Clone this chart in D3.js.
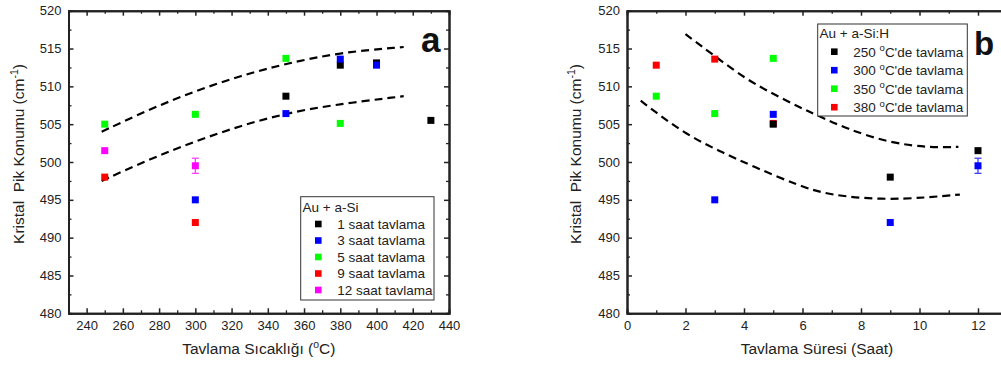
<!DOCTYPE html>
<html>
<head>
<meta charset="utf-8">
<script src="https://cdn.jsdelivr.net/npm/d3@7"></script>
<style>
  html, body { margin: 0; padding: 0; background: #fff; }
  svg { display: block; font-family: "Liberation Sans", Arial, sans-serif; }
</style>
</head>
<body>
<svg id="chart" width="1001" height="365"></svg>
<script>
// Panel a: peak position vs annealing temperature, one series per annealing time
const seriesA = [
  { name: "1 saat tavlama",  color: "#000000", x: [350, 380, 400, 430], y: [508.7, 512.8, 513.1, 505.5], err: [0, 0, 0, 0] },
  { name: "3 saat tavlama",  color: "#0000ff", x: [300, 350, 380, 400], y: [495.0, 506.4, 513.6, 512.8], err: [0.15, 0, 0, 0] },
  { name: "5 saat tavlama",  color: "#00ff00", x: [250, 300, 350, 380], y: [505.0, 506.3, 513.7, 505.1], err: [0, 0, 0, 0] },
  { name: "9 saat tavlama",  color: "#ff0000", x: [250, 300], y: [498.0, 492.0], err: [0, 0] },
  { name: "12 saat tavlama", color: "#ff00ff", x: [250, 300], y: [501.5, 499.5], err: [0, 1.0] }
];
// Dashed guide curves of panel a
const curveA1x = [248.3, 275, 300, 325, 350, 380, 415];
const curveA1y = [504.0, 507.0, 509.4, 511.4, 513.0, 514.5, 515.2];
const curveA2x = [248.3, 275, 300.7, 325, 349.4, 374.3, 415];
const curveA2y = [497.5, 500.4, 502.8, 504.8, 506.4, 507.5, 508.7];

// Panel b: peak position vs annealing time, one series per annealing temperature
const seriesB = [
  { name: "380", color: "#ff0000", x: [1, 3, 5], y: [512.8, 513.6, 505.1], err: [0, 0, 0] },
  { name: "350", color: "#00ff00", x: [1, 3, 5], y: [508.7, 506.4, 513.7], err: [0, 0, 0] },
  { name: "300", color: "#0000ff", x: [3, 5, 9, 12], y: [495.0, 506.3, 492.0, 499.5], err: [0.15, 0, 0, 1.0] },
  { name: "250", color: "#000000", x: [5, 9, 12], y: [505.0, 498.0, 501.5], err: [0, 0, 0] }
];
const legendB = [
  { temp: "250", color: "#000000" },
  { temp: "300", color: "#0000ff" },
  { temp: "350", color: "#00ff00" },
  { temp: "380", color: "#ff0000" }
];
const curveB1x = [2.0, 3.0, 4.09, 5.0, 5.91, 6.49, 7.5, 9.0, 10.36, 11.33];
const curveB1y = [516.9, 514.0, 510.9, 509.0, 507.2, 506.2, 504.4, 502.5, 501.9, 502.0];
const curveB2x = [0.47, 0.90, 2.04, 3.18, 4.32, 5.91, 6.94, 8.75, 10.25, 11.38];
const curveB2y = [508.1, 506.8, 503.6, 501.4, 499.4, 496.8, 495.6, 495.0, 495.3, 495.7];

// Shared tick values
const yMajor = [480, 485, 490, 495, 500, 505, 510, 515, 520];
const yMinor = [482.5, 487.5, 492.5, 497.5, 502.5, 507.5, 512.5, 517.5];
const xMajorA = [240, 260, 280, 300, 320, 340, 360, 380, 400, 420, 440];
const xMinorA = [230, 250, 270, 290, 310, 330, 350, 370, 390, 410, 430];
const xMajorB = [0, 2, 4, 6, 8, 10, 12];
const xMinorB = [1, 3, 5, 7, 9, 11, 13];

const svg = d3.select("#chart");
const INK = "#222";

function drawPanel(p) {
  const x = d3.scaleLinear().domain(p.xDomain).range(p.xRange);
  const y = d3.scaleLinear().domain([480, 520]).range([313.3, 10.7]);
  const g = svg.append("g");
  const [x0, x1] = p.xRange;

  const styleAxis = (sel, lw) => {
    sel.select(".domain").attr("stroke", INK).attr("stroke-width", 2);
    sel.selectAll(".tick line").attr("stroke", INK).attr("stroke-width", lw);
    sel.selectAll(".tick text").attr("fill", INK).attr("font-size", 13)
      .attr("font-family", "Liberation Sans, Arial, sans-serif");
  };

  // bottom
  g.append("g").attr("transform", `translate(0,${y(480)})`)
    .call(d3.axisBottom(x).tickValues(p.xMinor).tickSize(-3).tickFormat(""))
    .call(s => styleAxis(s, 1.3));
  g.append("g").attr("transform", `translate(0,${y(480)})`)
    .call(d3.axisBottom(x).tickValues(p.xMajor).tickSize(-5).tickSizeOuter(0).tickPadding(7).tickFormat(d3.format("d")))
    .call(s => styleAxis(s, 1.5));
  // top
  g.append("g").attr("transform", `translate(0,${y(520)})`)
    .call(d3.axisTop(x).tickValues(p.xMinor).tickSize(-3).tickFormat(""))
    .call(s => styleAxis(s, 1.3));
  g.append("g").attr("transform", `translate(0,${y(520)})`)
    .call(d3.axisTop(x).tickValues(p.xMajor).tickSize(-5).tickSizeOuter(0).tickFormat(""))
    .call(s => styleAxis(s, 1.5));
  // left
  g.append("g").attr("transform", `translate(${x0},0)`)
    .call(d3.axisLeft(y).tickValues(yMinor).tickSize(-3).tickFormat(""))
    .call(s => styleAxis(s, 1.3));
  g.append("g").attr("transform", `translate(${x0},0)`)
    .call(d3.axisLeft(y).tickValues(yMajor).tickSize(-5).tickSizeOuter(0).tickPadding(7).tickFormat(d3.format("d")))
    .call(s => styleAxis(s, 1.5));
  // right
  g.append("g").attr("transform", `translate(${x1},0)`)
    .call(d3.axisRight(y).tickValues(yMinor).tickSize(-3).tickFormat(""))
    .call(s => styleAxis(s, 1.3));
  g.append("g").attr("transform", `translate(${x1},0)`)
    .call(d3.axisRight(y).tickValues(yMajor).tickSize(-5).tickSizeOuter(0).tickFormat(""))
    .call(s => styleAxis(s, 1.5));

  // dashed guide curves
  const line = d3.line().x(d => x(d[0])).y(d => y(d[1])).curve(d3.curveBasis);
  p.curves.forEach(c => {
    g.append("path")
      .attr("d", line(d3.zip(c[0], c[1])))
      .attr("fill", "none").attr("stroke", "#000").attr("stroke-width", 2.2)
      .attr("stroke-dasharray", "8,5");
  });

  // markers with error bars
  const S = 7;
  p.series.forEach(s => {
    const pts = d3.zip(s.x, s.y, s.err);
    pts.filter(d => d[2] > 0).forEach(d => {
      const cx = x(d[0]);
      const eg = g.append("g").attr("stroke", s.color).attr("stroke-width", 1.3).attr("opacity", 0.75);
      eg.append("line").attr("x1", cx).attr("x2", cx).attr("y1", y(d[1] - d[2])).attr("y2", y(d[1] + d[2]));
      if (d[2] > 0.5) {
        eg.append("line").attr("x1", cx - 3.5).attr("x2", cx + 3.5).attr("y1", y(d[1] - d[2])).attr("y2", y(d[1] - d[2]));
        eg.append("line").attr("x1", cx - 3.5).attr("x2", cx + 3.5).attr("y1", y(d[1] + d[2])).attr("y2", y(d[1] + d[2]));
      }
    });
    g.selectAll(null).data(pts).join("rect")
      .attr("x", d => x(d[0]) - S / 2)
      .attr("y", d => y(d[1]) - S / 2)
      .attr("width", S)
      .attr("height", S)
      .attr("fill", s.color);
  });

  return { x, y, g };
}

drawPanel({
  xDomain: [230, 440], xRange: [68.5, 449],
  xMajor: xMajorA, xMinor: xMinorA,
  series: seriesA,
  curves: [[curveA1x, curveA1y], [curveA2x, curveA2y]]
});
drawPanel({
  xDomain: [0, 13], xRange: [627, 627 + 13 * 29.25],
  xMajor: xMajorB, xMinor: xMinorB,
  series: seriesB,
  curves: [[curveB1x, curveB1y], [curveB2x, curveB2y]]
});

// axis titles
function yTitle(cx) {
  const t = svg.append("text")
    .attr("transform", `translate(${cx},154) rotate(-90)`)
    .attr("text-anchor", "middle").attr("font-size", 15.5).attr("fill", INK);
  t.append("tspan").text("Kristal\u00a0\u00a0Pik Konumu (cm");
  t.append("tspan").attr("font-size", 10.5).attr("dy", -6).text("-1");
  t.append("tspan").attr("dy", 6).text(")");
}
yTitle(23.5);
yTitle(581);

function xTitle(cx, pre, sup, post) {
  const t = svg.append("text")
    .attr("x", cx).attr("y", 354)
    .attr("text-anchor", "middle").attr("font-size", 15.5).attr("fill", INK);
  t.append("tspan").text(pre);
  if (sup) {
    t.append("tspan").attr("font-size", 10.5).attr("dy", -6).text(sup);
    t.append("tspan").attr("dy", 6).text(post);
  }
}
xTitle(258.8, "Tavlama Sıcaklığı (", "o", "C)");
xTitle(817, "Tavlama Süresi (Saat)");

// panel letters
svg.append("text").attr("x", 421).attr("y", 51.5).attr("font-size", 35).attr("font-weight", "bold").attr("fill", "#111").text("a");
svg.append("text").attr("x", 974).attr("y", 55).attr("font-size", 33).attr("font-weight", "bold").attr("fill", "#111").text("b");

// legend a
const la = svg.append("g");
la.append("rect").attr("x", 300.7).attr("y", 196.7).attr("width", 133.3).attr("height", 103.3)
  .attr("fill", "#fff").attr("stroke", "#333").attr("stroke-width", 1);
la.append("text").attr("x", 302.5).attr("y", 212).attr("font-size", 13.5).attr("fill", INK).text("Au + a-Si");
seriesA.forEach((s, i) => {
  const cy = 224 + 16.5 * i;
  la.append("rect").attr("x", 318.3 - 3.3).attr("y", cy - 3.3).attr("width", 6.6).attr("height", 6.6).attr("fill", s.color);
  la.append("text").attr("x", 337.3).attr("y", cy + 4.8).attr("font-size", 13.5).attr("fill", INK).text(s.name);
});

// legend b
const lb = svg.append("g");
lb.append("rect").attr("x", 817.7).attr("y", 24).attr("width", 149.6).attr("height", 92)
  .attr("fill", "#fff").attr("stroke", "#333").attr("stroke-width", 1);
lb.append("text").attr("x", 819.5).attr("y", 38).attr("font-size", 13.5).attr("fill", INK).text("Au + a-Si:H");
legendB.forEach((s, i) => {
  const cy = 51.7 + 18.5 * i;
  lb.append("rect").attr("x", 834.3 - 3.3).attr("y", cy - 3.3).attr("width", 6.6).attr("height", 6.6).attr("fill", s.color);
  const t = lb.append("text").attr("x", 853.3).attr("y", cy + 4.8).attr("font-size", 13.5).attr("fill", INK);
  t.append("tspan").text(s.temp + " ");
  t.append("tspan").attr("font-size", 9.5).attr("dy", -5.5).text("o");
  t.append("tspan").attr("dy", 5.5).text("C'de tavlama");
});
</script>
</body>
</html>
